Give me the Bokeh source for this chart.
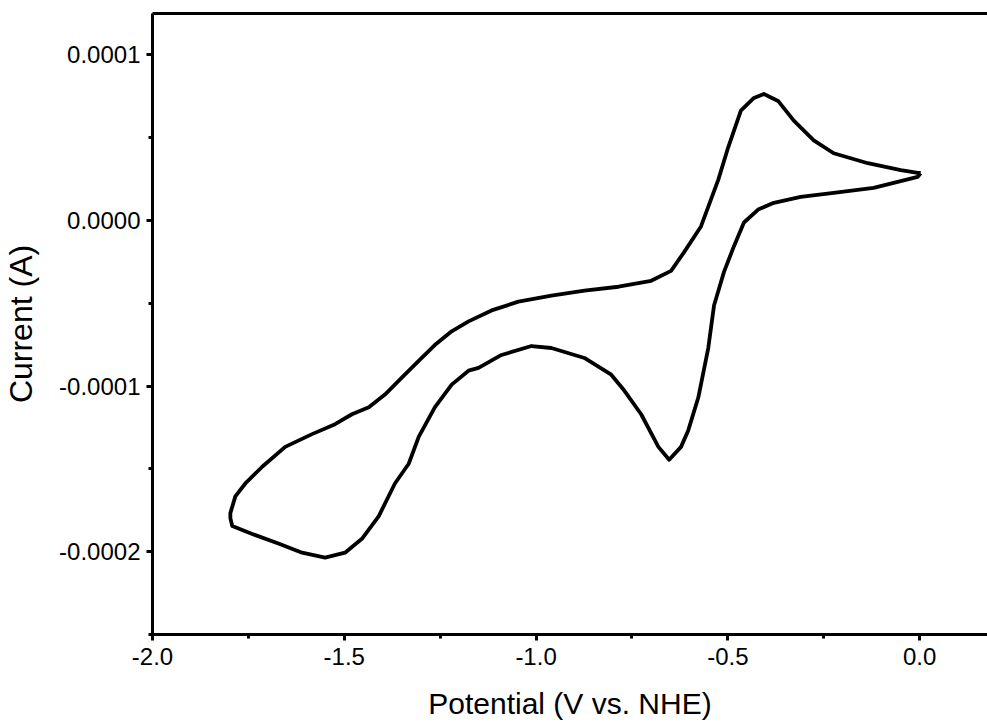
from bokeh.plotting import figure
from bokeh.models import LinearAxis, FixedTicker, PrintfTickFormatter, Range1d
from bokeh.embed import file_html
from bokeh.resources import INLINE

# Forward (cathodic) scan: 0.0 V -> -1.8 V   (current in units of 1e-4 A)
fwd_potential = [0.003, -0.005, -0.120, -0.224, -0.310, -0.380, -0.421, -0.458, -0.484, -0.510,
                 -0.536, -0.551, -0.577, -0.603, -0.622, -0.653, -0.681, -0.726, -0.770, -0.804,
                 -0.874, -0.960, -1.012, -1.090, -1.150, -1.176, -1.220, -1.264, -1.306, -1.332,
                 -1.368, -1.410, -1.454, -1.498, -1.550, -1.610, -1.670, -1.740, -1.792, -1.797]
fwd_current = [0.287, 0.263, 0.197, 0.167, 0.143, 0.107, 0.066, -0.012, -0.155, -0.310,
               -0.513, -0.770, -1.069, -1.266, -1.367, -1.445, -1.367, -1.170, -1.027, -0.931,
               -0.830, -0.770, -0.758, -0.812, -0.890, -0.907, -0.991, -1.128, -1.307, -1.469,
               -1.588, -1.785, -1.922, -2.006, -2.036, -2.006, -1.952, -1.893, -1.845, -1.797]

# Reverse (anodic) scan: -1.8 V -> 0.0 V
rev_potential = [-1.797, -1.784, -1.758, -1.714, -1.654, -1.584, -1.524, -1.480, -1.436, -1.394,
                 -1.350, -1.306, -1.264, -1.220, -1.176, -1.116, -1.046, -0.960, -0.874, -0.785,
                 -0.700, -0.648, -0.614, -0.570, -0.525, -0.499, -0.466, -0.432, -0.406, -0.369,
                 -0.328, -0.276, -0.224, -0.135, -0.049, -0.005, 0.003]
rev_current = [-1.767, -1.666, -1.588, -1.487, -1.367, -1.290, -1.230, -1.170, -1.128, -1.051,
               -0.949, -0.848, -0.752, -0.669, -0.609, -0.543, -0.490, -0.454, -0.424, -0.400,
               -0.364, -0.304, -0.191, -0.036, 0.245, 0.442, 0.663, 0.740, 0.764, 0.722,
               0.603, 0.484, 0.406, 0.346, 0.304, 0.287, 0.287]

current_scale = 1e-4

x_major_ticks = [-2.0, -1.5, -1.0, -0.5, 0.0]
x_minor_ticks = [-1.75, -1.25, -0.75, -0.25]
y_major_ticks = [-2e-4, -1e-4, 0.0, 1e-4]
y_minor_ticks = [-2.5e-4, -1.5e-4, -0.5e-4, 0.5e-4]

x_title = "Potential (V vs. NHE)"
y_title = "Current (A)"

xs = fwd_potential + rev_potential
ys = [v * current_scale for v in fwd_current + rev_current]

FONT = "Liberation Sans"

p = figure(width=987, height=722, output_backend="svg", toolbar_location=None,
           x_axis_type=None, y_axis_type=None,
           x_range=Range1d(-2.0, 0.177), y_range=Range1d(-2.5e-4, 1.25e-4),
           min_border_left=151, min_border_right=0, min_border_top=13, min_border_bottom=85)
p.grid.visible = False
p.outline_line_color = None
p.background_fill_color = "white"
p.border_fill_color = "white"

p.line(xs, ys, line_color="black", line_width=3.8, line_join="round")

xaxis = LinearAxis(ticker=FixedTicker(ticks=x_major_ticks, minor_ticks=x_minor_ticks),
                   formatter=PrintfTickFormatter(format="%.1f"),
                   axis_label=x_title)
yaxis = LinearAxis(ticker=FixedTicker(ticks=y_major_ticks, minor_ticks=y_minor_ticks),
                   formatter=PrintfTickFormatter(format="%.4f"),
                   axis_label=y_title)
for ax in (xaxis, yaxis):
    ax.axis_line_width = 3
    ax.axis_line_color = "black"
    ax.major_tick_line_width = 3
    ax.minor_tick_line_width = 3
    ax.major_tick_out = 6
    ax.major_tick_in = 0
    ax.minor_tick_out = 4
    ax.minor_tick_in = 0
    ax.major_label_text_font = FONT
    ax.major_label_text_font_size = "24px"
    ax.major_label_text_color = "black"
    ax.axis_label_text_font = FONT
    ax.axis_label_text_font_style = "normal"
    ax.axis_label_text_color = "black"
xaxis.axis_label_text_font_size = "30px"
yaxis.axis_label_text_font_size = "32px"
xaxis.major_label_standoff = 7
xaxis.axis_label_standoff = 19
yaxis.major_label_standoff = 6
yaxis.axis_label_standoff = 17
p.add_layout(xaxis, "below")
p.add_layout(yaxis, "left")

top = LinearAxis(ticker=FixedTicker(ticks=[]), major_label_text_font_size="0px",
                 major_tick_out=0, minor_tick_out=0, major_label_standoff=0,
                 axis_line_width=3, axis_line_color="black")
p.add_layout(top, "above")

open("out.html", "w").write(file_html(p, INLINE))
